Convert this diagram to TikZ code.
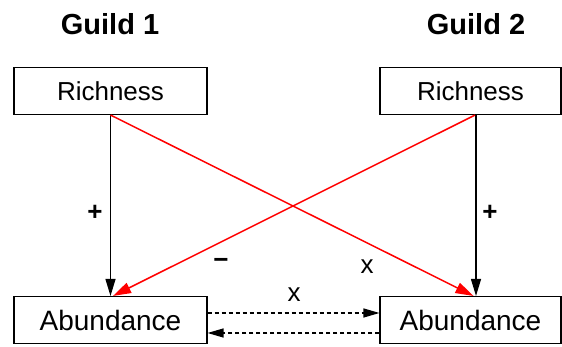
\documentclass[tikz,border=0pt]{standalone}
\usepackage{fontspec}
\setmainfont{Liberation Sans}
\usetikzlibrary{arrows.meta}
\definecolor{neg}{RGB}{255,0,0}

\begin{document}
\begin{tikzpicture}[x=1pt,y=1pt,
  box/.style={draw,line width=1.1pt,minimum height=47pt,inner sep=0pt},
  head/.style={font=\fontsize{29}{33}\selectfont\bfseries},
  lbl/.style={font=\fontsize{26}{30}\selectfont},
  sgn/.style={font=\fontsize{26}{30}\selectfont\bfseries},
  a/.style={-{Triangle[length=17pt,width=10pt]},line width=1.2pt},
  r/.style={a,draw=neg,line width=1.5pt,-{Triangle[length=18pt,width=11pt]}},
  d/.style={a,dash pattern=on 4pt off 3pt,-{Triangle[length=16pt,width=9pt]}}]
 \useasboundingbox (0,0) rectangle (562,347);
 \node[head] (g1) at (110,323) {Guild 1};
 \node[head] (g2) at (476,323) {Guild 2};
 \node[box,minimum width=193pt,font=\fontsize{26}{30}\selectfont] (r1) at (110.5,256) {Richness};
 \node[box,minimum width=181pt,font=\fontsize{26}{30}\selectfont] (r2) at (470.5,256) {Richness};
 \node[box,minimum width=193pt,font=\fontsize{28}{32}\selectfont] (ab1) at (110.5,27) {Abundance};
 \node[box,minimum width=181pt,font=\fontsize{28}{32}\selectfont] (ab2) at (470.5,27) {Abundance};
 \draw[a] (r1) -- (ab1);
 \draw[a] ([xshift=5.5pt]r2.south) -- ([xshift=5.5pt]ab2.north);
 \draw[r] (r1.south) -- ([xshift=3pt]ab2.north);
 \draw[r] ([xshift=4.5pt]r2.south) -- ([xshift=2.5pt]ab1.north);
 \draw[d] ([yshift=7pt]ab1.east) -- ([yshift=7pt]ab2.west);
 \draw[d] ([yshift=-13pt]ab2.west) -- ([yshift=-13pt]ab1.east);
 \node[sgn] (p1) at (95,134) {+};
 \node[sgn] (p2) at (490,134) {+};
 \node[sgn] (m1) at (221,84) {−};
 \node[lbl] (x1) at (367,80) {x};
 \node[lbl] (x2) at (294,52) {x};
\end{tikzpicture}
\end{document}
